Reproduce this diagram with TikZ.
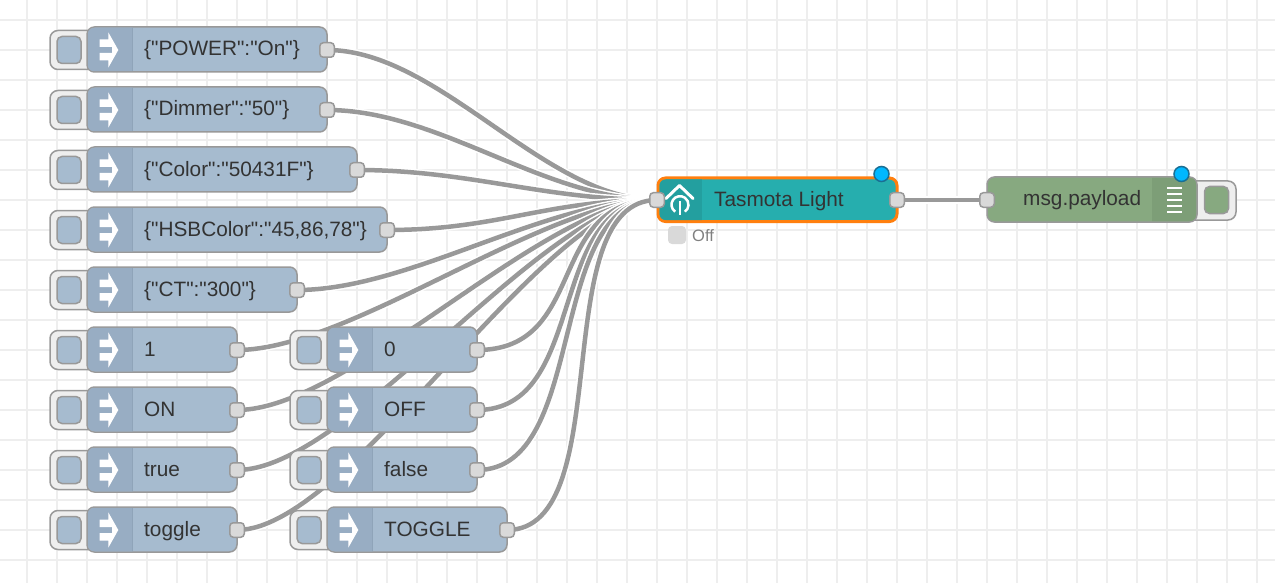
\documentclass[tikz,border=0pt]{standalone}
\usepackage{fontspec}
\usetikzlibrary{backgrounds}
\newfontfamily\nrfont{Liberation Sans}
\definecolor{injectblue}{HTML}{A6BBCF}
\definecolor{injectdark}{HTML}{98ADC3}
\definecolor{injectline}{HTML}{8FA4B9}
\definecolor{tasmotateal}{HTML}{26AEAE}
\definecolor{tasmotadark}{HTML}{239F9F}
\definecolor{debuggreen}{HTML}{87A980}
\definecolor{debugdark}{HTML}{7D9E77}
\definecolor{nodeedge}{HTML}{999999}
\definecolor{wiregray}{HTML}{999999}
\definecolor{gridgray}{HTML}{EEEEEE}
\definecolor{buttongray}{HTML}{EEEEEE}
\definecolor{portgray}{HTML}{D9D9D9}
\definecolor{changedblue}{HTML}{00B8FF}
\definecolor{changededge}{HTML}{1A6F94}
\definecolor{selectorange}{HTML}{FF7F0E}
\tikzset{
  nodebody/.style={draw=nodeedge,line width=1.5pt,rounded corners=7.5pt,minimum height=45pt,inner sep=0pt,outer sep=0pt,anchor=west},
  portbox/.style={draw=nodeedge,fill=portgray,line width=1.5pt,rounded corners=3.5pt,minimum size=14.5pt,inner sep=0pt,outer sep=0pt},
  buttonbox/.style={draw=nodeedge,fill=buttongray,line width=1.5pt},
  buttonfill/.style={draw=nodeedge,line width=1.5pt,rounded corners=5pt,minimum width=24pt,minimum height=27pt,inner sep=0pt,outer sep=0pt},
  nodetext/.style={inner sep=0pt,anchor=base west,text=black!80,font=\nrfont\fontsize{20.8}{24}\selectfont},
  wire/.style={draw=white,double=wiregray,double distance=4.5pt,line width=1.5pt},
  changeddot/.style={circle,draw=changededge,fill=changedblue,line width=1.5pt,minimum size=15pt,inner sep=0pt}
}
\begin{document}
\begin{tikzpicture}[x=1pt,y=-1pt]
  \useasboundingbox (0,0) rectangle (1275,583);
  % grid
  \begin{scope}[on background layer]
    \fill[white] (0,0) rectangle (1275,583);
    \foreach \gx in {27,57,...,1275} \draw[gridgray,line width=2.5pt] (\gx,0) -- (\gx,583);
    \foreach \gy in {20,50,...,583} \draw[gridgray,line width=2.5pt] (0,\gy) -- (1275,\gy);
  \end{scope}

  % the two nodes in the middle
  \node[nodebody,fill=tasmotateal,draw=selectorange,line width=3pt,minimum width=239pt,minimum height=43.5pt] (light) at (658,199.75) {};
  \begin{scope}
    \clip[rounded corners=6pt] (659.5,179.5) rectangle (895.5,220);
    \fill[tasmotadark] (658,177) rectangle (702,222);
  \end{scope}
  \draw[white,line width=3pt,line cap=round,line join=round] (666,198.5) -- (679.5,185.5) -- (693,198.5);
  \draw[white,line width=2.5pt] (680,204.7) ++(125:8.5) arc (125:415:8.5);
  \draw[white,line width=2.5pt] (680,201) -- (680,214.5);
  \node[nodetext] (lightlabel) at (714,206) {Tasmota Light};
  \node[portbox] (lightin) at (657,200) {};
  \node[portbox] (lightout) at (897,200) {};
  \node[changeddot] (lightdot) at (881.5,174) {};
  \node[rounded corners=4pt,fill=portgray,minimum size=18pt,inner sep=0pt] (lightstatus) at (677,235) {};
  \node[nodetext,text=black!50,font=\nrfont\fontsize{16.5}{20}\selectfont] (lightstate) at (692,241) {Off};

  \draw[buttonbox] (1190,181) -- (1228,181) arc (-90:0:8) -- (1236,212) arc (0:90:8) -- (1190,220) -- cycle;
  \node[buttonfill,fill=debuggreen] (debugbutton) at (1216.5,200) {};
  \node[nodebody,fill=debuggreen,minimum width=210pt] (debug) at (987,199.5) {};
  \begin{scope}
    \clip[rounded corners=6pt] (988,178) rectangle (1196,221);
    \fill[debugdark] (1152,177) rectangle (1197,222);
  \end{scope}
  \foreach \ly in {188,194,200,206,212} \draw[white,line width=2pt] (1167,\ly) -- (1182,\ly);
  \node[nodetext] (debuglabel) at (1023,205.5) {msg.payload};
  \node[portbox] (debugin) at (987,200) {};
  \node[changeddot] (debugdot) at (1181.5,174) {};

  \begin{scope}[on background layer]
    \draw[wire] (lightout.center) -- (debugin.center);
  \end{scope}

  % inject nodes: name/left/right/row/label
  \foreach \nm/\xa/\xb/\ya/\txt in {
    power/87/327/50/{\{"POWER":"On"\}},
    dimmer/87/327/110/{\{"Dimmer":"50"\}},
    color/87/357/170/{\{"Color":"50431F"\}},
    hsb/87/387/230/{\{"HSBColor":"45,86,78"\}},
    ct/87/297/290/{\{"CT":"300"\}},
    one/87/237/350/1,
    on/87/237/410/ON,
    true/87/237/470/true,
    toggle/87/237/530/toggle,
    zero/327/477/350/0,
    off/327/477/410/OFF,
    false/327/477/470/false,
    Toggle/327/507/530/TOGGLE}
  {
    \pgfmathsetmacro{\bodywd}{\xb-\xa}
    \draw[buttonbox] (\xa+1,\ya-19.5) -- (\xa-29,\ya-19.5) arc (-90:-180:8) -- (\xa-37,\ya+11.5) arc (180:90:8) -- (\xa+1,\ya+19.5) -- cycle;
    \node[buttonfill,fill=injectblue] (\nm button) at (\xa-18,\ya) {};
    \node[nodebody,fill=injectblue,minimum width=\bodywd pt] (\nm) at (\xa,\ya-0.5) {};
    \begin{scope}
      \clip[rounded corners=6.5pt] (\xa+0.75,\ya-22.25) rectangle (\xb-1,\ya+21.25);
      \fill[injectdark] (\xa,\ya-23) rectangle (\xa+45,\ya+22);
      \draw[injectline,line width=1pt] (\xa+45,\ya-23) -- (\xa+45,\ya+22);
    \end{scope}
    \fill[white] (\xa+21.3,\ya-17.7) -- (\xa+31.3,\ya) -- (\xa+21.3,\ya+17.7) -- (\xa+21.3,\ya+10.5) -- (\xa+12.5,\ya+10.5) -- (\xa+12.5,\ya+3) -- (\xa+25,\ya+3) -- (\xa+25,\ya-3) -- (\xa+12.5,\ya-3) -- (\xa+12.5,\ya-10.5) -- (\xa+21.3,\ya-10.5) -- cycle;
    \node[nodetext] (\nm label) at (\xa+57,\ya+6) {\txt};
    \node[portbox] (\nm out) at (\xb,\ya) {};
    \begin{scope}[on background layer]
      \draw[wire] (\nm out.center) .. controls +(112.5,0) and +(-112.5,0) .. (lightin.center);
    \end{scope}
  }
\end{tikzpicture}
\end{document}
